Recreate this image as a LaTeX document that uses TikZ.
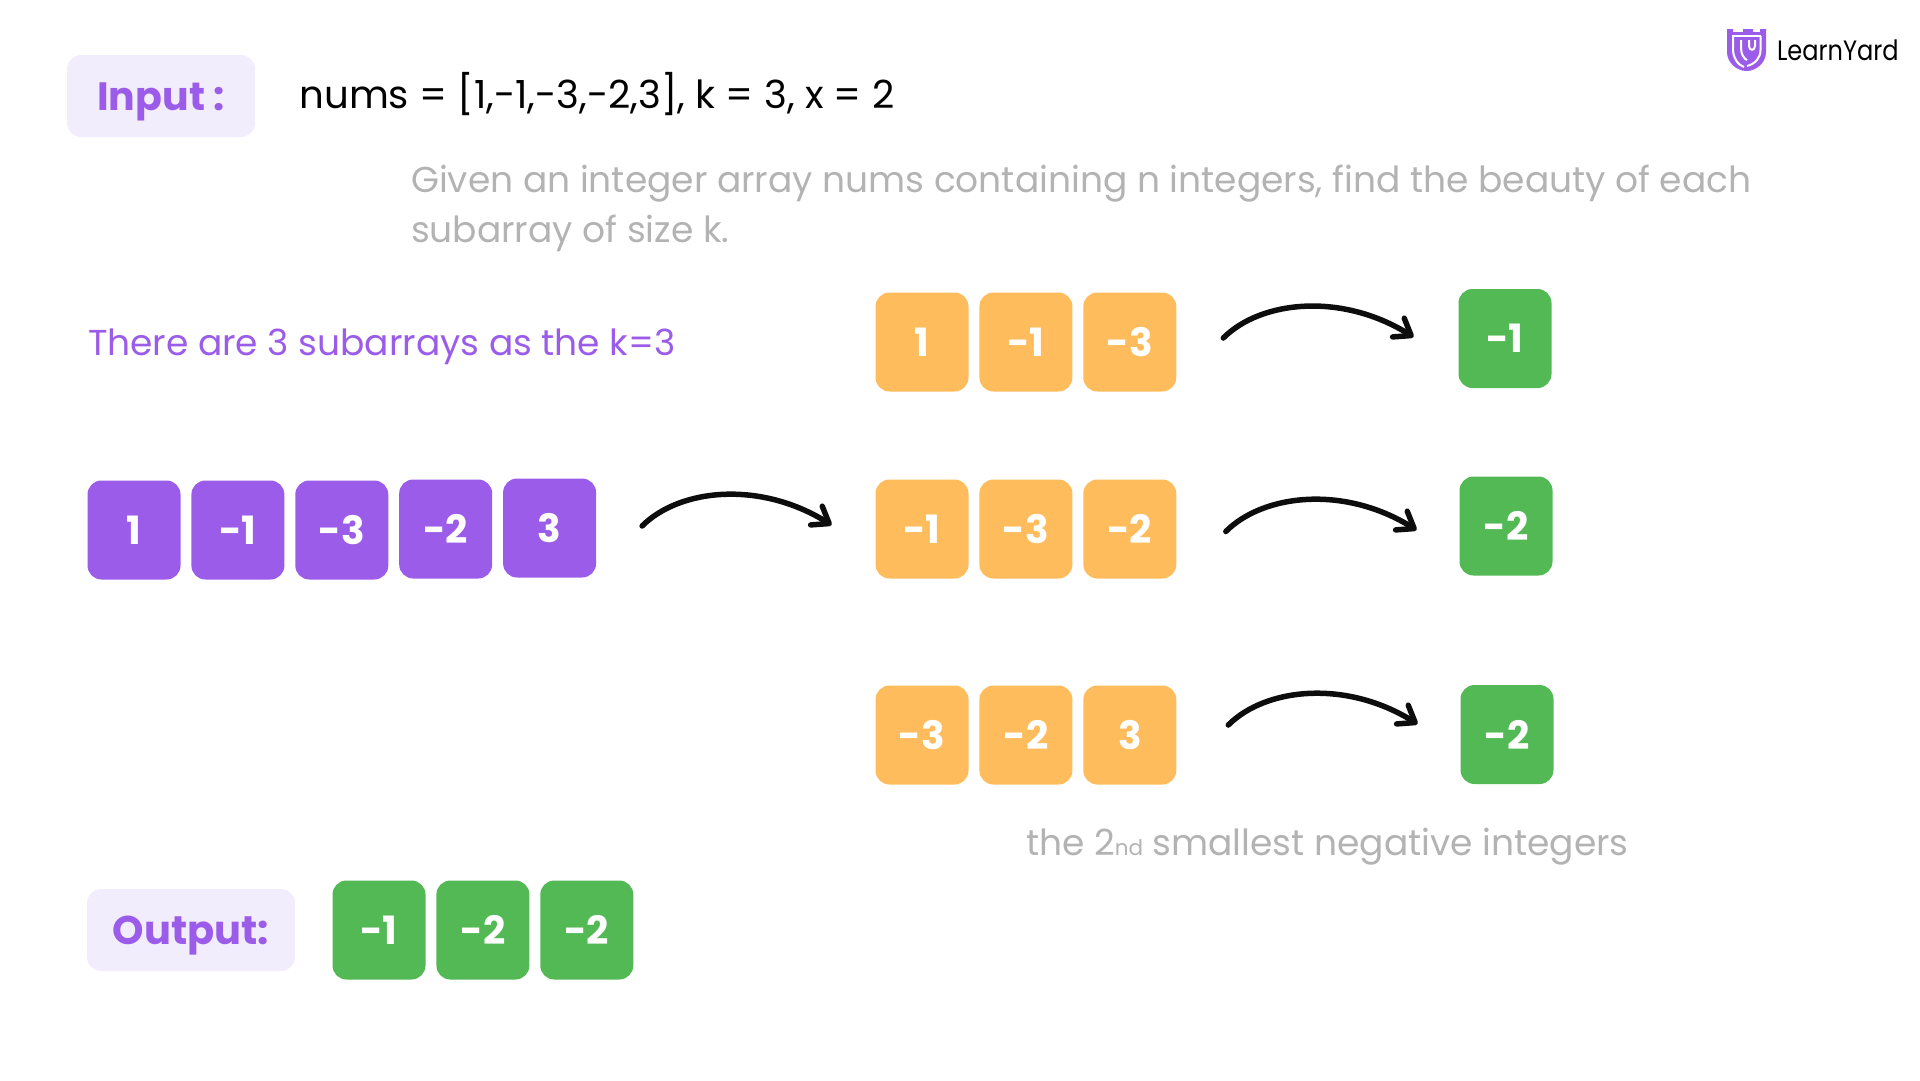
\documentclass[tikz,border=0pt]{standalone}
\usepackage{fontspec}
\setmainfont{Poppins}
\usetikzlibrary{positioning,arrows.meta}
\definecolor{lypurple}{HTML}{9B5DE9}
\definecolor{lylilac}{HTML}{F2EDFC}
\definecolor{lyorange}{HTML}{FFBC5C}
\definecolor{lygreen}{HTML}{52B955}
\definecolor{lygray}{HTML}{B3B3B3}

\begin{document}
\begin{tikzpicture}[
    x=1pt, y=-1pt,
    every node/.style={inner sep=0pt, outer sep=0pt},
    cellbox/.style={
        fill=#1, rounded corners=14pt,
        minimum width=93pt, minimum height=99pt,
        text=white, font=\fontsize{39}{39}\selectfont\bfseries
    },
    tagbox/.style={
        fill=lylilac, rounded corners=14pt, minimum height=82pt,
        text=lypurple, text height=28pt, text depth=0pt,
        font=\fontsize{40}{40}\selectfont\bfseries
    },
    note/.style={anchor=base west, text=#1, font=\fontsize{36}{50}\selectfont},
    arr/.style={-{Straight Barb[round, length=15pt, width=22pt, line width=5.5pt]},
        line width=5.5pt, line cap=round, color=black!95},
    logoline/.style={white, line width=2pt},
]
\useasboundingbox (0,0) rectangle (1920,1080);

% === Top: problem statement ===
\node[tagbox, minimum width=188pt, font=\fontsize{39.5}{40}\selectfont\bfseries] (input) at (161,96) {Input :\hspace{9pt}};
\node[note=black, font=\fontsize{38.7}{50}\selectfont] (nums) at (299.5,108)
    {nums = [1,-1,-3,-2,3], k = 3, x = 2};
\node[note=lygray] (given) at (411,192) {Given an integer array nums containing n integers, find the beauty of each};
\node[note=lygray] (given2) at (411,242.5) {subarray of size k.};
\node[note=lypurple] (there) at (88,355) {There are 3 subarrays as the k=3};

% === Left: whole array ===
\node[cellbox=lypurple] (p1) at (134,530) {1};
\node[cellbox=lypurple, right=10.9pt of p1] (p2) {-1};
\node[cellbox=lypurple, right=10.9pt of p2] (p3) {-3};
\node[cellbox=lypurple, right=10.9pt of p3, yshift=1pt] (p4) {-2};
\node[cellbox=lypurple, right=10.9pt of p4, yshift=1pt] (p5) {3};

% === Middle: subarrays ===
\node[cellbox=lyorange] (a1) at (922,342) {1};
\node[cellbox=lyorange, right=10.9pt of a1] (a2) {-1};
\node[cellbox=lyorange, right=10.9pt of a2] (a3) {-3};

\node[cellbox=lyorange] (b1) at (922,529) {-1};
\node[cellbox=lyorange, right=10.9pt of b1] (b2) {-3};
\node[cellbox=lyorange, right=10.9pt of b2] (b3) {-2};

\node[cellbox=lyorange] (c1) at (922,735) {-3};
\node[cellbox=lyorange, right=10.9pt of c1] (c2) {-2};
\node[cellbox=lyorange, right=10.9pt of c2] (c3) {3};

% === Right: results ===
\node[cellbox=lygreen] (ra) at (1505,338.5) {-1};
\node[cellbox=lygreen] (rb) at (1506,526) {-2};
\node[cellbox=lygreen] (rc) at (1507,734.5) {-2};

% Arrows
\foreach \from/\to/\sx/\sy/\ex/\ey in {p5/b1/46/2/-44/4, a3/ra/47/4/-45/1.5, b3/rb/49.5/-2.5/-43/-4, c3/rc/52/10/-43/10.5} {
    \draw[arr] ([xshift=\sx pt, yshift=\sy pt]\from.east)
        to[out=45, in=148, out looseness=.72, in looseness=1.13]
        ([xshift=\ex pt, yshift=\ey pt]\to.west);
}

\node[note=lygray] (second) at (1026,855)
    {the 2{\fontsize{21.5}{21}\selectfont nd} smallest negative integers};

% === Bottom: output ===
\node[tagbox, minimum width=208pt] (output) at (191,930) {Output:};
\node[cellbox=lygreen] (o1) at (379,930) {-1};
\node[cellbox=lygreen, right=10.9pt of o1] (o2) {-2};
\node[cellbox=lygreen, right=10.9pt of o2] (o3) {-2};

% === Logo ===
\fill[lypurple] (1727,29) -- (1733,29) -- (1733,32) -- (1743,32) -- (1743,29) -- (1753,29)
    -- (1753,32) -- (1760,32) -- (1760,29) -- (1766,29) -- (1766,52)
    .. controls (1766,63) and (1756,71) .. (1746.5,71)
    .. controls (1737,71) and (1727,63) .. (1727,52) -- cycle;
\draw[logoline] (1732,35.5) -- (1761,35.5);
\draw[logoline] (1733,36) -- (1733,49)
    .. controls (1733,58) and (1738,65) .. (1744,67);
\draw[logoline] (1741,40) -- (1741,48)
    .. controls (1741,54) and (1744,59) .. (1747,60);
\draw[logoline] (1749,40) -- (1749,46)
    .. controls (1749,51) and (1755,51) .. (1755,46) -- (1755,40);
\draw[logoline] (1760.5,36) -- (1760.5,50)
    .. controls (1760.5,58) and (1755,64) .. (1747,66);
\node[note=black, font=\fontsize{28}{28}\selectfont, xscale=.86, transform shape] (brand) at (1777,60) {LearnYard};
\end{tikzpicture}
\end{document}
